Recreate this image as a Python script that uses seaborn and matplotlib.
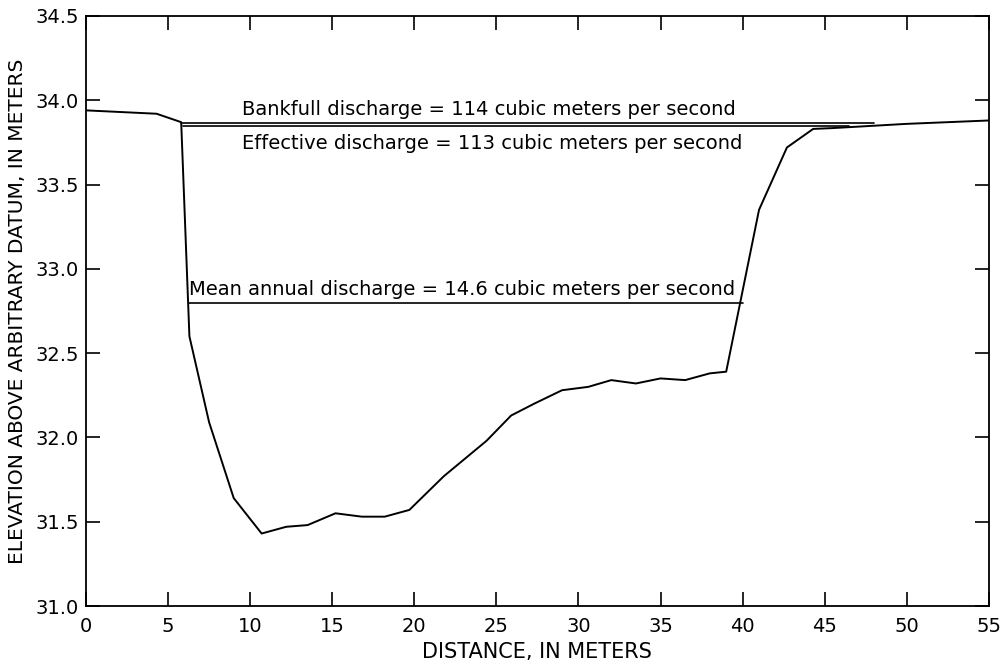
import matplotlib
matplotlib.use("Agg")
import matplotlib.pyplot as plt
import seaborn as sns
import pandas as pd

# Channel cross-section profile
distance = [0, 4.3, 5.8, 6.3, 7.5, 9.0, 10.7, 12.2, 13.5, 15.2, 16.8, 18.2, 19.7,
            21.8, 24.4, 25.9, 27.3, 29.0, 30.6, 32.0, 33.5, 35.0, 36.5, 38.0, 39.0,
            41.0, 42.7, 44.3, 45.5, 50.0, 55.0]
elevation = [33.94, 33.92, 33.87, 32.60, 32.09, 31.64, 31.43, 31.47, 31.48, 31.55,
             31.53, 31.53, 31.57, 31.77, 31.98, 32.13, 32.20, 32.28, 32.30, 32.34,
             32.32, 32.35, 32.34, 32.38, 32.39, 33.35, 33.72, 33.83, 33.835, 33.86, 33.88]

# Discharge water levels (elevation, start, end)
level_names = ["Bankfull", "Effective", "Mean annual"]
level_elev = [33.865, 33.845, 32.80]
level_start = [5.8, 5.9, 6.3]
level_end = [48.0, 46.5, 40.0]
level_labels = ["Bankfull discharge = 114 cubic meters per second",
                "Effective discharge = 113 cubic meters per second",
                "Mean annual discharge = 14.6 cubic meters per second"]

x_ticks = [0, 5, 10, 15, 20, 25, 30, 35, 40, 45, 50, 55]
y_ticks = [31.0, 31.5, 32.0, 32.5, 33.0, 33.5, 34.0, 34.5]

sns.set_theme(style="ticks")
plt.rcParams['font.family'] = ['DejaVu Sans']
plt.rcParams['text.color'] = 'black'
plt.rcParams['axes.labelcolor'] = 'black'

fig = plt.figure(figsize=(10.08, 6.65), dpi=100)
ax = fig.add_axes([0.0853, 0.0887, 0.8957, 0.8873])

prof = pd.DataFrame({"distance": distance, "elevation": elevation})
sns.lineplot(data=prof, x="distance", y="elevation", ax=ax, color="black",
             linewidth=1.4, sort=False, estimator=None)

for name, e, s, en in zip(level_names, level_elev, level_start, level_end):
    d = pd.DataFrame({"distance": [s, en], "elevation": [e, e]})
    sns.lineplot(data=d, x="distance", y="elevation", ax=ax, color="black",
                 linewidth=1.2, estimator=None)

fs = 14
ax.text(9.5, level_elev[0] + 0.025, level_labels[0], fontsize=fs, ha="left", va="bottom", color="black")
ax.text(9.5, level_elev[1] - 0.045, level_labels[1], fontsize=fs, ha="left", va="top", color="black")
ax.text(6.3, level_elev[2] + 0.02, level_labels[2], fontsize=fs, ha="left", va="bottom", color="black")

ax.set_xlim(0, 55)
ax.set_ylim(31.0, 34.5)
ax.set_xticks(x_ticks)
ax.set_xticklabels([str(t) for t in x_ticks])
ax.set_yticks(y_ticks)
ax.set_yticklabels([f"{t:.1f}" for t in y_ticks])
ax.tick_params(direction="in", length=10, width=1.2, top=True, right=True,
               labeltop=False, labelright=False, labelsize=14, colors="black")
ax.tick_params(axis="x", pad=8)
ax.tick_params(axis="y", pad=5)
for sp in ax.spines.values():
    sp.set_visible(True)
    sp.set_linewidth(1.3)
    sp.set_color("black")

ax.set_xlabel("DISTANCE, IN METERS", fontsize=15, labelpad=4, color="black")
ax.set_ylabel("ELEVATION ABOVE ARBITRARY DATUM, IN METERS", fontsize=14.5, labelpad=6, color="black")

fig.savefig("out.png", dpi=100)
